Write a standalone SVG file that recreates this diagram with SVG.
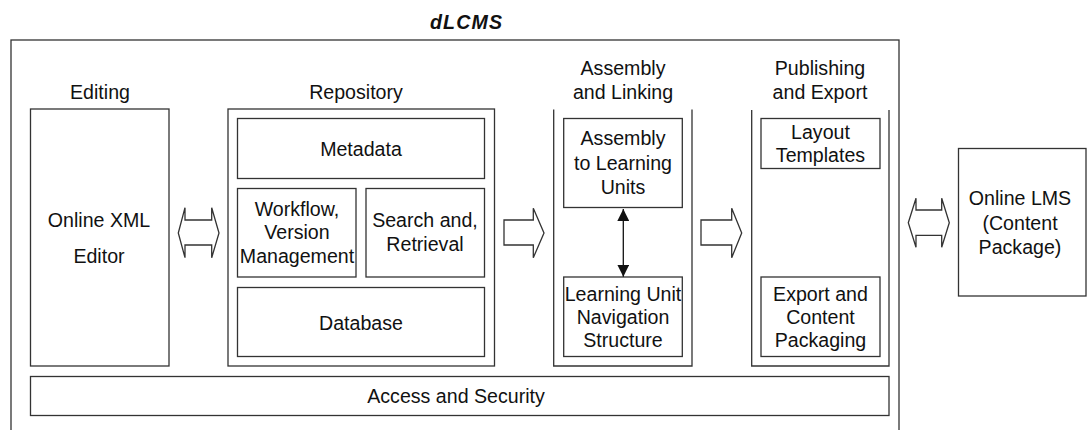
<svg xmlns="http://www.w3.org/2000/svg" width="1087" height="430" viewBox="0 0 1087 430">
<style>
.b{fill:none;stroke:#333;stroke-width:1.3}
.t{font-family:"Liberation Sans",Arial,sans-serif;font-size:19.6px;fill:#111;text-anchor:middle}
.ar{fill:#fff;stroke:#333;stroke-width:1.3;stroke-linejoin:miter}
</style>
<defs>
<marker id="ah" viewBox="0 0 12 12" refX="12" refY="6" markerWidth="12" markerHeight="12" markerUnits="userSpaceOnUse" orient="auto-start-reverse">
<path d="M0,0 L12,6 L0,12 Z" fill="#111"/>
</marker>
</defs>
<rect width="1087" height="430" fill="#fff"/>
<g id="dlcms">
<rect class="b" x="11" y="40" width="888" height="400"/>
<text class="t" x="466" y="29" font-size="20" font-weight="bold" font-style="italic" textLength="72" lengthAdjust="spacing">dLCMS</text>
</g>
<g id="editing">
<text class="t" x="100" y="99">Editing</text>
<rect class="b" x="30.5" y="109" width="138.5" height="257"/>
<text class="t" x="99" y="227">Online XML</text>
<text class="t" x="99" y="263">Editor</text>
</g>
<g id="repository">
<text class="t" x="356" y="99">Repository</text>
<rect class="b" x="228" y="109" width="266.5" height="257"/>
</g>
<g id="metadata">
<rect class="b" x="237.5" y="118.5" width="247" height="60"/>
<text class="t" x="361" y="156">Metadata</text>
</g>
<g id="workflow">
<rect class="b" x="237.5" y="188.5" width="118.5" height="88.5"/>
<text class="t" x="297" y="215.5">Workflow,</text>
<text class="t" x="297" y="239">Version</text>
<text class="t" x="297" y="263">Management</text>
</g>
<g id="search">
<rect class="b" x="366" y="188.5" width="118.5" height="88.5"/>
<text class="t" x="425" y="226.5">Search and,</text>
<text class="t" x="425" y="251">Retrieval</text>
</g>
<g id="database">
<rect class="b" x="237.5" y="287.5" width="247" height="69"/>
<text class="t" x="361" y="330">Database</text>
</g>
<g id="assembly">
<text class="t" x="623" y="75">Assembly</text>
<text class="t" x="623" y="99">and Linking</text>
<path class="b" d="M553.7,109.5 V366 H692 V109.5"/>
</g>
<g id="assembly-units">
<rect class="b" x="563.7" y="118.5" width="118.6" height="89"/>
<text class="t" x="623" y="145">Assembly</text>
<text class="t" x="623" y="170">to Learning</text>
<text class="t" x="623" y="194">Units</text>
</g>
<g id="navigation">
<rect class="b" x="563.7" y="277" width="118.6" height="79.5"/>
<text class="t" x="623" y="300.5">Learning Unit</text>
<text class="t" x="623" y="324">Navigation</text>
<text class="t" x="623" y="346.5">Structure</text>
</g>
<g id="publishing">
<text class="t" x="820" y="75">Publishing</text>
<text class="t" x="820" y="98.5">and Export</text>
<path class="b" d="M751.7,110 V366 H889 V110"/>
</g>
<g id="layout">
<rect class="b" x="761" y="118.5" width="119" height="50"/>
<text class="t" x="820.5" y="138.5">Layout</text>
<text class="t" x="820.5" y="162">Templates</text>
</g>
<g id="export">
<rect class="b" x="761" y="277" width="119" height="79.5"/>
<text class="t" x="820.5" y="300.5">Export and</text>
<text class="t" x="820.5" y="324">Content</text>
<text class="t" x="820.5" y="346.5">Packaging</text>
</g>
<g id="access">
<rect class="b" x="30.5" y="376.5" width="858.5" height="39"/>
<text class="t" x="456" y="403">Access and Security</text>
</g>
<g id="lms">
<rect class="b" x="958.5" y="148.5" width="127.5" height="147.5"/>
<text class="t" x="1020" y="205">Online LMS</text>
<text class="t" x="1020" y="230">(Content</text>
<text class="t" x="1020" y="253.5">Package)</text>
</g>
<g id="connectors">
<path class="ar" d="M178.3,233 L185,207.7 V220 H211.7 V207.7 L219,233 L211.7,257.7 V245 H185 V257.7 Z"/>
<path class="ar" d="M504,220 H533.3 V208.3 L544,233 L533.3,257.7 V245 H504 Z"/>
<path class="ar" d="M701,220 H731.7 V208.3 L741.7,233 L731.7,257.7 V245 H701 Z"/>
<path class="ar" d="M908.3,222.7 L916,198.3 V210 H941.7 V198.3 L949.3,222.7 L941.7,247.3 V235.3 H916 V247.3 Z"/>
<line x1="623.3" y1="209" x2="623.3" y2="276.7" stroke="#111" stroke-width="1.3" marker-start="url(#ah)" marker-end="url(#ah)"/>
</g>
</svg>
